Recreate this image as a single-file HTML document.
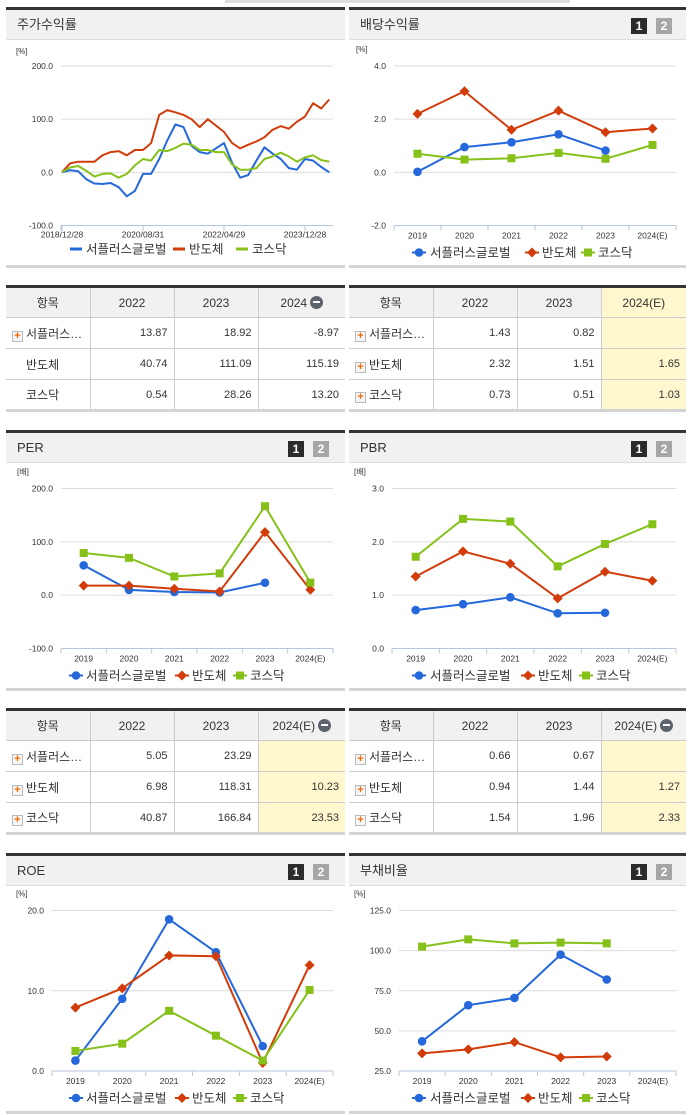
<!DOCTYPE html>
<html><head><meta charset="utf-8">
<style>
*{box-sizing:border-box;margin:0;padding:0}
body{width:691px;height:1115px;background:#fff;position:relative;overflow:hidden;font-family:"Liberation Sans","Noto Sans CJK KR",sans-serif;color:#333}
.panel{position:absolute;border-top:3px solid #333;border-bottom:3px solid #d4d4d4}
.hdr{height:30px;background:#f1f1f1;border-bottom:1px solid #ddd;font-size:13px;line-height:29px;padding-left:11px;color:#333;position:relative}
.btn{position:absolute;top:8px;width:16px;height:16px;font-size:12px;font-weight:bold;color:#fff;text-align:center;line-height:16px}
.b1{background:#2b2b2b}.b2{background:#a6a6a6}
table{position:absolute;border-collapse:collapse;border-top:3px solid #333;border-bottom:3px solid #d4d4d4;font-size:11px;table-layout:fixed}
td,th{border:1px solid #ccc;height:31px;font-weight:normal}
th{background:#f1f1f1;font-size:12px;text-align:center}
td{text-align:right;padding-right:6px}
td.n{text-align:left;padding-left:6px;font-size:12px}
tr>*:first-child{border-left:none}tr>*:last-child{border-right:none}
.y{background:#fff8cf}
.pl{display:inline-block;width:11px;height:11px;border:1px solid #bbb;background:#f6f6f6;color:#f26a00;font-size:11px;line-height:9px;text-align:center;font-weight:bold;margin-right:3px;vertical-align:-1px}
.mi{display:inline-block;width:13px;height:13px;border-radius:50%;background:#5d636b;vertical-align:-2px;margin-left:3px;position:relative}
.mi:after{content:"";position:absolute;left:3px;top:5.5px;width:7px;height:2px;background:#fff}
svg{position:absolute;left:0;top:0}
</style></head><body>
<div style="position:absolute;left:225px;top:0;width:345px;height:3px;background:#ddd"></div>

<div class="panel" style="left:6px;top:7px;width:339px;height:261px"><div class="hdr">주가수익률</div></div>
<div class="panel" style="left:349px;top:7px;width:337px;height:261px"><div class="hdr">배당수익률<span class="btn b1" style="left:282px">1</span><span class="btn b2" style="left:307px">2</span></div></div>
<div class="panel" style="left:6px;top:430px;width:339px;height:261px"><div class="hdr">PER<span class="btn b1" style="left:282px">1</span><span class="btn b2" style="left:307px">2</span></div></div>
<div class="panel" style="left:349px;top:430px;width:337px;height:261px"><div class="hdr">PBR<span class="btn b1" style="left:282px">1</span><span class="btn b2" style="left:307px">2</span></div></div>
<div class="panel" style="left:6px;top:853px;width:339px;height:261px"><div class="hdr">ROE<span class="btn b1" style="left:282px">1</span><span class="btn b2" style="left:307px">2</span></div></div>
<div class="panel" style="left:349px;top:853px;width:337px;height:261px"><div class="hdr">부채비율<span class="btn b1" style="left:282px">1</span><span class="btn b2" style="left:307px">2</span></div></div>

<table style="left:6px;top:285px;width:339px">
<colgroup><col style="width:84px"><col style="width:84px"><col style="width:84px"><col></colgroup>
<tr><th>항목</th><th>2022</th><th>2023</th><th>2024<span class="mi"></span></th></tr>
<tr><td class="n"><span class="pl">+</span>서플러스…</td><td>13.87</td><td>18.92</td><td>-8.97</td></tr>
<tr><td class="n" style="padding-left:20px">반도체</td><td>40.74</td><td>111.09</td><td>115.19</td></tr>
<tr><td class="n" style="padding-left:20px">코스닥</td><td>0.54</td><td>28.26</td><td>13.20</td></tr>
</table>
<table style="left:349px;top:285px;width:337px">
<colgroup><col style="width:84px"><col style="width:84px"><col style="width:84px"><col></colgroup>
<tr><th>항목</th><th>2022</th><th>2023</th><th class="y">2024(E)</th></tr>
<tr><td class="n"><span class="pl">+</span>서플러스…</td><td>1.43</td><td>0.82</td><td class="y"></td></tr>
<tr><td class="n"><span class="pl">+</span>반도체</td><td>2.32</td><td>1.51</td><td class="y">1.65</td></tr>
<tr><td class="n"><span class="pl">+</span>코스닥</td><td>0.73</td><td>0.51</td><td class="y">1.03</td></tr>
</table>
<table style="left:6px;top:708px;width:339px">
<colgroup><col style="width:84px"><col style="width:84px"><col style="width:84px"><col></colgroup>
<tr><th>항목</th><th>2022</th><th>2023</th><th>2024(E)<span class="mi"></span></th></tr>
<tr><td class="n"><span class="pl">+</span>서플러스…</td><td>5.05</td><td>23.29</td><td class="y"></td></tr>
<tr><td class="n"><span class="pl">+</span>반도체</td><td>6.98</td><td>118.31</td><td class="y">10.23</td></tr>
<tr><td class="n"><span class="pl">+</span>코스닥</td><td>40.87</td><td>166.84</td><td class="y">23.53</td></tr>
</table>
<table style="left:349px;top:708px;width:337px">
<colgroup><col style="width:84px"><col style="width:84px"><col style="width:84px"><col></colgroup>
<tr><th>항목</th><th>2022</th><th>2023</th><th>2024(E)<span class="mi"></span></th></tr>
<tr><td class="n"><span class="pl">+</span>서플러스…</td><td>0.66</td><td>0.67</td><td class="y"></td></tr>
<tr><td class="n"><span class="pl">+</span>반도체</td><td>0.94</td><td>1.44</td><td class="y">1.27</td></tr>
<tr><td class="n"><span class="pl">+</span>코스닥</td><td>1.54</td><td>1.96</td><td class="y">2.33</td></tr>
</table>

<svg id="c" width="691" height="1115"></svg>
<script>
const seriesNames=["서플러스글로벌","반도체","코스닥"];
const colors=["#2468dc","#d23c0a","#86c11a"];
const years=["2019","2020","2021","2022","2023","2024(E)"];
// stock return: month offsets from 2018/12/28
const stockMonths=[0,2,4,6,8,10,12,14,16,18,20,22,24,26,28,30,32,34,36,38,40,42,44,46,48,50,52,54,56,58,60,62,64,66];
const stockBlue=[0,4,2,-13,-21,-22,-20,-28,-45,-35,-3,-3,25,60,90,85,50,38,35,45,55,18,-10,-5,22,47,35,25,8,5,25,22,10,0];
const stockRed=[0,17,20,20,20,32,38,40,32,42,42,55,108,117,113,108,100,85,100,88,76,55,45,52,58,66,80,87,82,95,105,130,120,137];
const stockGreen=[0,9,12,3,-8,-3,-2,-10,-3,13,25,22,42,40,46,54,52,42,42,38,38,15,5,5,8,25,30,37,30,20,28,32,23,20];
const stockTicks=["200.0","100.0","0.0","-100.0"];
const stockTickVals=[200,100,0,-100];
const stockDateLabels=["2018/12/28","2020/08/31","2022/04/29","2023/12/28"];
const stockDateMonths=[0,20,40,60];
const divBlue=[0.02,0.95,1.13,1.43,0.82,null];
const divRed=[2.2,3.05,1.6,2.32,1.51,1.65];
const divGreen=[0.7,0.48,0.53,0.73,0.51,1.03];
const perBlue=[56,10,6,5.05,23.29,null];
const perRed=[18,18,12,6.98,118.31,10.23];
const perGreen=[79,70,35,40.87,166.84,23.53];
const pbrBlue=[0.72,0.83,0.96,0.66,0.67,null];
const pbrRed=[1.35,1.82,1.59,0.94,1.44,1.27];
const pbrGreen=[1.72,2.43,2.38,1.54,1.96,2.33];
const roeBlue=[1.3,9.0,18.9,14.8,3.1,null];
const roeRed=[7.9,10.3,14.4,14.3,1.0,13.2];
const roeGreen=[2.5,3.4,7.5,4.4,1.3,10.1];
const debtBlue=[43.5,66,70.5,97.5,82,null];
const debtRed=[36,38.5,43,33.5,34,null];
const debtGreen=[102.5,107,104.5,105,104.5,null];

const S=document.getElementById('c');const NS="http://www.w3.org/2000/svg";
function mk(t,a,txt){const e=document.createElementNS(NS,t);for(const k in a)e.setAttribute(k,a[k]);if(txt!=null)e.textContent=txt;S.appendChild(e);return e;}
function txt(x,y,s,size,anchor,fill){return mk('text',{x:x,y:y,'font-size':size,'text-anchor':anchor||'start',fill:fill||'#333','font-family':'Liberation Sans, Noto Sans CJK KR, sans-serif'},s);}
function marker(i,x,y){const c=colors[i];let e;
 if(i==0)e=mk('circle',{cx:x,cy:y,r:4.3,fill:c});
 else if(i==1)e=mk('path',{d:`M${x} ${y-5}L${x+5} ${y}L${x} ${y+5}L${x-5} ${y}Z`,fill:c});
 else e=mk('rect',{x:x-4,y:y-4,width:8,height:8,fill:c});
 
 }
function unit(x,y,u){const t=txt(x,y,u,8);}
function yAxis(L,R,yOf,vals,labels){vals.forEach((v,i)=>{const y=yOf(v);
 const g=mk('line',{x1:L,x2:R,y1:y,y2:y,stroke:'#dcdcdc','stroke-width':1});
 const t=txt(L-8,y+3,labels[i],8.5,'end');});}
function legend(y,xs,lineStyle){seriesNames.forEach((n,i)=>{
 if(lineStyle){const l=mk('line',{x1:xs[i][0]-6,x2:xs[i][0]+6,y1:y,y2:y,stroke:colors[i],'stroke-width':3});}
 else{mk('line',{x1:xs[i][0]-7,x2:xs[i][0]+7,y1:y,y2:y,stroke:colors[i],'stroke-width':2});marker(i,xs[i][0],y);}
 const t=txt(xs[i][1],y+4.5,n,12.5);});}

function catChart(o){const L=o.L,R=o.R,n=years.length,bw=(R-L)/n;
 const yOf=v=>o.y0+(v-o.min)/(o.max-o.min)*(o.y1-o.y0);
 const xOf=i=>L+bw*(i+0.5);
 yAxis(L,R,yOf,o.ticks,o.ticks.map(v=>v.toFixed(1)));
 const ax=mk('line',{x1:L,x2:R,y1:o.y0,y2:o.y0,stroke:'#b8c6da','stroke-width':1});
 for(let i=0;i<=n;i++)mk('line',{x1:L+bw*i,x2:L+bw*i,y1:o.y0,y2:o.y0+5,stroke:'#b8c6da'});
 years.forEach((yr,i)=>{const t=txt(xOf(i),o.y0+13,yr,8.5,'middle');});
 unit(o.L-38+(o.unitDx||0),o.y1-14,o.unit);
 o.series.forEach((s,si)=>{let d='';s.forEach((v,i)=>{if(v==null)return;d+=(d?'L':'M')+xOf(i)+' '+yOf(v);});
  const p=mk('path',{d:d,fill:'none',stroke:colors[si],'stroke-width':2});});
 o.series.forEach((s,si)=>s.forEach((v,i)=>{if(v!=null)marker(si,xOf(i),yOf(v));}));
 legend(o.y0+27,o.lx,false);}

(function(){const L=61,R=333,y0=225.5,y1=66;const yOf=v=>y0+(v+100)/300*(y1-y0);const xOf=m=>62+m*4.05;
 yAxis(L,R,yOf,stockTickVals,stockTicks);
 mk('line',{x1:L,x2:R,y1:y0,y2:y0,stroke:'#b8c6da'});
 stockDateMonths.forEach((m,i)=>{mk('line',{x1:xOf(m),x2:xOf(m),y1:y0,y2:y0+5,stroke:'#b8c6da'});const t=txt(xOf(m),y0+12,stockDateLabels[i],8.5,'middle');});
 mk('line',{x1:L,x2:L,y1:y0,y2:y0+5,stroke:'#b8c6da'});
 unit(16,54,'[%]');
 [stockBlue,stockRed,stockGreen].forEach((s,si)=>{const d=s.map((v,i)=>(i?'L':'M')+xOf(stockMonths[i]).toFixed(1)+' '+yOf(v).toFixed(1)).join('');
  const p=mk('path',{d:d,fill:'none',stroke:colors[si],'stroke-width':2,'stroke-linejoin':'round'});});
 legend(249,[[76,86],[179,189],[242,252]],true);})();

catChart({L:394,R:676,y0:225.5,y1:66,min:-2,max:4,ticks:[4,2,0,-2],unit:'[%]',unitDx:0,series:[divBlue,divRed,divGreen],lx:[[419,430],[532,542],[588,598]]});
catChart({L:61,R:333,y0:648.5,y1:488.5,min:-100,max:200,ticks:[200,100,0,-100],unit:'[배]',unitDx:-6,series:[perBlue,perRed,perGreen],lx:[[76,86],[182,192],[240,250]]});
catChart({L:392,R:676,y0:648.5,y1:488.5,min:0,max:3,ticks:[3,2,1,0],unit:'[배]',unitDx:0,series:[pbrBlue,pbrRed,pbrGreen],lx:[[419,430],[528,538],[586,596]]});
catChart({L:52,R:333,y0:1071,y1:910.5,min:0,max:20,ticks:[20,10,0],unit:'[%]',unitDx:2,series:[roeBlue,roeRed,roeGreen],lx:[[76,86],[182,192],[240,250]]});
catChart({L:399,R:676,y0:1071,y1:910.5,min:25,max:125,ticks:[125,100,75,50,25],unit:'[%]',unitDx:-7,series:[debtBlue,debtRed,debtGreen],lx:[[419,430],[528,538],[586,596]]});
</script>
</body></html>
